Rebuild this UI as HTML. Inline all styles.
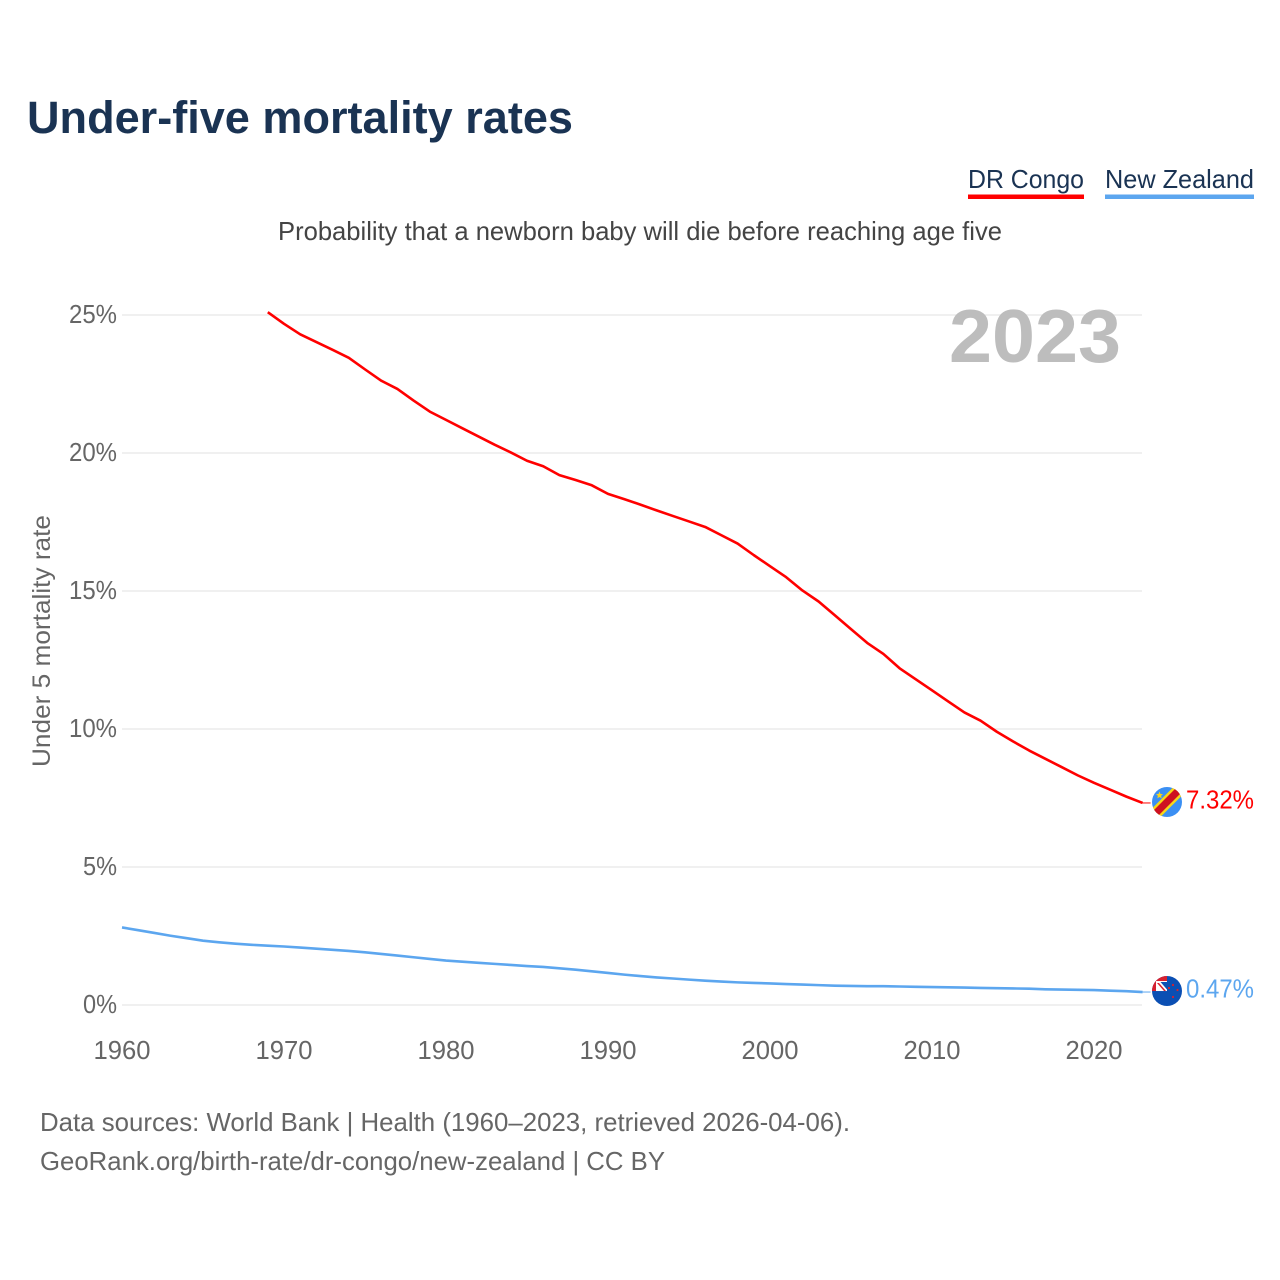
<!DOCTYPE html>
<html lang="en">
<head>
<meta charset="utf-8">
<title>Under-five mortality rates</title>
<style>
html,body{margin:0;padding:0;background:#fff;width:1280px;height:1280px;overflow:hidden}
svg{display:block}
text{font-family:"Liberation Sans",sans-serif}
</style>
</head>
<body>
<svg id="chart" xmlns="http://www.w3.org/2000/svg" width="1280" height="1280" viewBox="0 0 1280 1280">
  <rect x="0" y="0" width="1280" height="1280" fill="#ffffff"/>
  <text x="27" y="133" font-size="45" font-weight="700" fill="#1a3353" textLength="546" lengthAdjust="spacingAndGlyphs">Under-five mortality rates</text>
  <g>
    <g>
      <text x="968" y="188" font-size="26" fill="#1a3353" textLength="116" lengthAdjust="spacingAndGlyphs">DR Congo</text>
      <rect x="968" y="194.5" width="116" height="4.5" fill="#ff0000"/>
    </g>
    <g>
      <text x="1105" y="188" font-size="26" fill="#1a3353" textLength="149" lengthAdjust="spacingAndGlyphs">New Zealand</text>
      <rect x="1105" y="194.5" width="149" height="4.5" fill="#5ca6ef"/>
    </g>
  </g>
  <text x="278" y="240" font-size="26" fill="#444444" textLength="724" lengthAdjust="spacingAndGlyphs">Probability that a newborn baby will die before reaching age five</text>
  <text transform="translate(50,767) rotate(-90)" font-size="25" fill="#666666" textLength="252" lengthAdjust="spacingAndGlyphs">Under 5 mortality rate</text>
  <g id="grid"></g>
  <g id="yticks"></g>
  <g id="xticks"></g>
  <text x="949" y="362" font-size="75" font-weight="700" fill="#bdbdbd" textLength="172" lengthAdjust="spacingAndGlyphs">2023</text>
  <g id="series"></g>

  <defs>
    <clipPath id="flag-clip"><circle cx="0" cy="0" r="15"/></clipPath>
  </defs>
  <g id="flag-cd">
    <g clip-path="url(#flag-clip)">
      <rect x="-15" y="-15" width="30" height="30" fill="#3b8ff3"/>
      <polygon points="-18,9.5 9.5,-18 18,-9.5 -9.5,18" fill="#f7d618"/>
      <polygon points="-18,13 13,-18 18,-13 -13,18" fill="#ce1021"/>
      <polygon points="-7.5,-10.5 -6.5,-8 -4,-7.8 -5.9,-6.2 -5.3,-3.6 -7.5,-5 -9.7,-3.6 -9.1,-6.2 -11,-7.8 -8.5,-8" fill="#f7d618"/>
    </g>
  </g>
  <g id="flag-nz">
    <g clip-path="url(#flag-clip)">
      <rect x="-15" y="-15" width="30" height="30" fill="#0b4fb3"/>
      <rect x="-15" y="-15" width="15" height="15" fill="#d8202f"/>
      <rect x="-11" y="-10" width="11" height="10" fill="#ffffff"/>
      <polygon points="-6.5,-9 0,-9 0,-1.5" fill="#0b4fb3"/>
      <polygon points="-10,-8 -8,-8 -1,0 -3,0" fill="#d8202f"/>
      <circle cx="2" cy="-3" r="1.1" fill="#d8202f"/>
      <circle cx="6" cy="-6" r="1.1" fill="#d8202f"/>
      <circle cx="10.5" cy="-1" r="1.1" fill="#d8202f"/>
      <circle cx="6" cy="6" r="1.1" fill="#d8202f"/>
    </g>
  </g>
  <text id="value-cd" x="1186" font-size="25.5" fill="#ff0000" textLength="68" lengthAdjust="spacingAndGlyphs"></text>
  <text id="value-nz" x="1186" font-size="25.5" fill="#5ca6ef" textLength="68" lengthAdjust="spacingAndGlyphs"></text>

  <text x="40" y="1131" font-size="26" fill="#666666" textLength="810" lengthAdjust="spacingAndGlyphs">Data sources: World Bank | Health (1960–2023, retrieved 2026-04-06).</text>
  <text x="40" y="1170" font-size="26" fill="#666666" textLength="625" lengthAdjust="spacingAndGlyphs">GeoRank.org/birth-rate/dr-congo/new-zealand | CC BY</text>
</svg>
<script>
var congoYears = [1969,1970,1971,1972,1973,1974,1975,1976,1977,1978,1979,1980,1981,1982,1983,1984,1985,1986,1987,1988,1989,1990,1991,1992,1993,1994,1995,1996,1997,1998,1999,2000,2001,2002,2003,2004,2005,2006,2007,2008,2009,2010,2011,2012,2013,2014,2015,2016,2017,2018,2019,2020,2021,2022,2023];
var congoValues = [25.1,24.68,24.3,24.02,23.74,23.45,23.03,22.62,22.32,21.9,21.5,21.2,20.9,20.6,20.3,20.02,19.72,19.52,19.2,19.02,18.83,18.52,18.33,18.13,17.92,17.72,17.52,17.32,17.02,16.72,16.3,15.9,15.5,15.02,14.62,14.12,13.62,13.12,12.72,12.2,11.8,11.4,11.0,10.6,10.3,9.9,9.55,9.22,8.92,8.62,8.32,8.05,7.8,7.55,7.32];
var nzYears = [1960,1961,1962,1963,1964,1965,1966,1967,1968,1969,1970,1971,1972,1973,1974,1975,1976,1977,1978,1979,1980,1981,1982,1983,1984,1985,1986,1987,1988,1989,1990,1991,1992,1993,1994,1995,1996,1997,1998,1999,2000,2001,2002,2003,2004,2005,2006,2007,2008,2009,2010,2011,2012,2013,2014,2015,2016,2017,2018,2019,2020,2021,2022,2023];
var nzValues = [2.81,2.71,2.61,2.51,2.42,2.33,2.27,2.22,2.18,2.15,2.12,2.08,2.04,2.0,1.96,1.91,1.85,1.79,1.73,1.67,1.61,1.57,1.53,1.49,1.45,1.41,1.38,1.33,1.28,1.22,1.16,1.1,1.05,1.0,0.96,0.92,0.88,0.85,0.82,0.8,0.78,0.76,0.74,0.72,0.7,0.69,0.68,0.68,0.67,0.66,0.65,0.64,0.63,0.62,0.61,0.6,0.59,0.57,0.56,0.55,0.54,0.52,0.5,0.47];
var yTickValues = [0,5,10,15,20,25];
var xTickValues = [1960,1970,1980,1990,2000,2010,2020];

var NS = 'http://www.w3.org/2000/svg';
function xScale(year){ return 122 + (year - 1960) * 16.2; }
function yScale(v){ return 1005 - v * 27.6; }
function make(tag, parent, attrs){
  var el = document.createElementNS(NS, tag);
  for (var k in attrs) el.setAttribute(k, attrs[k]);
  parent.appendChild(el);
  return el;
}
var gridG = document.getElementById('grid');
var yG = document.getElementById('yticks');
var xG = document.getElementById('xticks');
var seriesG = document.getElementById('series');

yTickValues.forEach(function(v){
  var ln = make('line', gridG, {x1:122, x2:1142, y1:yScale(v), y2:yScale(v), stroke:'#ececec', 'stroke-width':1.6});
  
  
  var t = make('text', yG, {x:117, y:yScale(v) + 8, 'text-anchor':'end', 'font-size':25.5, fill:'#666666', textLength:(v >= 10 ? 48 : 34), lengthAdjust:'spacingAndGlyphs'});
  
  
  t.textContent = v + '%';
});
xTickValues.forEach(function(y){
  var t = make('text', xG, {x:xScale(y), y:1059, 'text-anchor':'middle', 'font-size':25.5, fill:'#666666', textLength:57, lengthAdjust:'spacingAndGlyphs'});
  
  
  t.textContent = y;
});
function drawSeries(years, values, color, key, flagId, valueId){
  var d = years.map(function(y, i){
    return (i ? 'L' : 'M') + xScale(y).toFixed(2) + ' ' + yScale(values[i]).toFixed(2);
  }).join(' ');
  var p = make('path', seriesG, {d:d, fill:'none', stroke:color, 'stroke-width':2.6, 'stroke-linejoin':'round', 'stroke-linecap':'butt'});
  
  
  var lastV = values[values.length - 1];
  var lastY = yScale(lastV);
  var lastX = xScale(years[years.length - 1]);
  var lead = make('line', seriesG, {x1:lastX, x2:lastX + 8, y1:lastY, y2:lastY, stroke:color, 'stroke-width':1});
  
  
  document.getElementById(flagId).setAttribute('transform', 'translate(1167,' + (lastY - 1) + ')');
  var label = document.getElementById(valueId);
  label.setAttribute('y', lastY + 5.5);
  label.textContent = lastV.toFixed(2) + '%';
}
drawSeries(congoYears, congoValues, '#ff0000', 'dr-congo', 'flag-cd', 'value-cd');
drawSeries(nzYears, nzValues, '#5ca6ef', 'new-zealand', 'flag-nz', 'value-nz');
</script>
</body>
</html>
